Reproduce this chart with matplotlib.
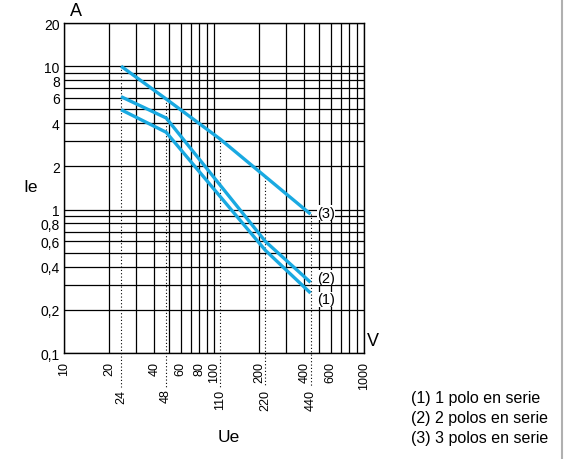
import matplotlib
matplotlib.use("Agg")
import matplotlib.pyplot as plt
import numpy as np
from matplotlib.font_manager import fontManager

names = {f.name for f in fontManager.ttflist}
fam = ['Liberation Sans Narrow', 'Liberation Sans', 'DejaVu Sans'] if 'Liberation Sans Narrow' in names else ['Liberation Sans', 'DejaVu Sans']
plt.rcParams['font.family'] = fam

# Data
ue_c1 = [24, 48, 220, 440]
ie_c1 = [4.97, 3.46, 0.52, 0.262]
ue_c2 = [24, 48, 220, 440]
ie_c2 = [6.13, 4.35, 0.60, 0.311]
ue_c3 = [24, 48, 110, 440]
ie_c3 = [10.0, 5.9, 3.1, 0.93]
curve_labels = ["(1)", "(2)", "(3)"]
marked_ue = [24, 48, 110, 220, 440]
marked_top = [10.0, 5.9, 3.1, 1.7, 0.93]
x_ticks = [10, 20, 40, 60, 80, 100, 200, 400, 600, 1000]
y_ticks = [0.1, 0.2, 0.4, 0.6, 0.8, 1, 2, 4, 6, 8, 10, 20]
y_ticklabels = ["0,1", "0,2", "0,4", "0,6", "0,8", "1", "2", "4", "6", "8", "10", "20"]
legend_lines = ["(1) 1 polo en serie", "(2) 2 polos en serie", "(3) 3 polos en serie"]

W, H = 566, 460
fig = plt.figure(figsize=(W / 100, H / 100), dpi=100)
ax = fig.add_axes([64 / W, (H - 354) / H, 300 / W, 330 / H])
ax.set_xscale('log')
ax.set_yscale('log')
ax.set_xlim(10, 1000)
ax.set_ylim(0.1, 20)

# grid
xgrid = [m * 10 ** e for e in (1, 2) for m in range(1, 10)] + [1000]
ygrid = [m * 10 ** e for e in (-1, 0) for m in range(1, 10)] + [10, 20]
for xv in xgrid:
    ax.axvline(xv, color='black', lw=0.9, zorder=1)
for yv in ygrid:
    ax.axhline(yv, color='black', lw=0.9, zorder=1)
for s in ax.spines.values():
    s.set_linewidth(1.0)

# dotted marker lines
for xv, top in zip(marked_ue, marked_top):
    ax.plot([xv, xv], [top, 0.0575], ls=(0, (1, 2)), color='black', lw=0.8,
            clip_on=False, zorder=2)

col = '#19a9e1'
for xs, ys in [(ue_c1, ie_c1), (ue_c2, ie_c2), (ue_c3, ie_c3)]:
    ax.plot(xs, ys, color=col, lw=2.4, solid_capstyle='butt', zorder=3)

for lab, yv in zip(curve_labels, [0.237, 0.335, 0.95]):
    ax.text(485, yv, lab, fontsize=10.5, va='center', ha='left', zorder=4,
            bbox=dict(facecolor='white', edgecolor='none', pad=0.2))

ax.minorticks_off()
ax.set_xticks(x_ticks)
ax.set_xticklabels([str(v) for v in x_ticks], rotation=90, fontsize=9)
ax.set_yticks(y_ticks)
ax.set_yticklabels(y_ticklabels, fontsize=10)
ax.tick_params(which='both', length=0)
ax.tick_params(axis='x', pad=6)
ax.tick_params(axis='y', pad=3)

for xv in marked_ue:
    ax.text(xv, 0.0565, str(xv), rotation=90, fontsize=9, ha='center', va='top',
            clip_on=False)

fig.text(70 / W, 1 - 12 / H, "A", fontsize=13, ha='left', va='center')
fig.text(367 / W, 1 - 342 / H, "V", fontsize=13, ha='left', va='center')
fig.text(31 / W, 1 - 188 / H, "Ie", fontsize=12.5, ha='center', va='center')
fig.text(229 / W, 1 - 438 / H, "Ue", fontsize=12.5, ha='center', va='center')
for i, s in enumerate(legend_lines):
    fig.text(411 / W, 1 - (399 + 20 * i) / H, s, fontsize=11.5, ha='left', va='center')

fig.add_artist(plt.Line2D([562 / W, 562 / W], [0, 1], color='#b0b0b0', lw=1.5,
                          transform=fig.transFigure))

fig.savefig('out.png', dpi=100)
